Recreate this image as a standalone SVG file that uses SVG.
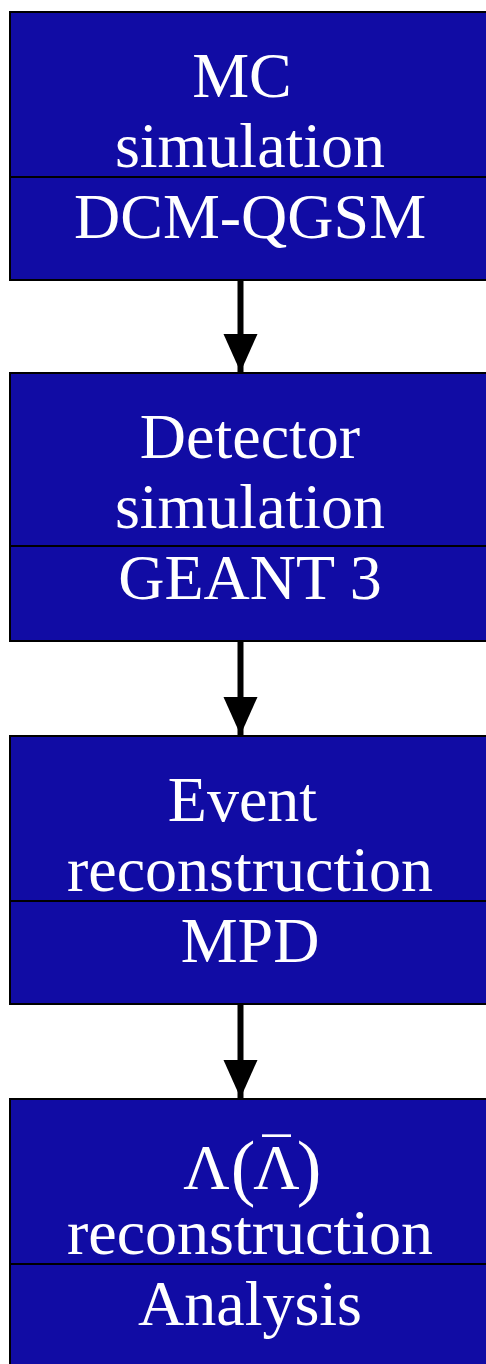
<svg xmlns="http://www.w3.org/2000/svg" width="486" height="1364" viewBox="0 0 486 1364">
  <defs>
    <style>
      .box { fill: #110ca4; stroke: #000; stroke-width: 2; }
      .sep { stroke: #000; stroke-width: 2; }
      .lbl { font-family: "Liberation Serif", "Times New Roman", serif; font-size: 64px; fill: #fff; text-anchor: middle; }
      .paren { font-size: 74px; }
      .bar { font-size: 56px; }
      .edge { stroke: #000; stroke-width: 6; fill: none; }
    </style>
    <marker id="head" markerUnits="userSpaceOnUse" markerWidth="38" markerHeight="36" refX="38" refY="17" orient="auto">
      <path d="M0,0 L38,17 L0,34 Z" fill="#000"/>
    </marker>
  </defs>
  <rect width="486" height="1364" fill="#fff"/>

  <g id="connectors">
    <line class="edge" x1="240.5" y1="281" x2="240.5" y2="372" marker-end="url(#head)"/>
    <line class="edge" x1="240.5" y1="642" x2="240.5" y2="735" marker-end="url(#head)"/>
    <line class="edge" x1="240.5" y1="1005" x2="240.5" y2="1098" marker-end="url(#head)"/>
  </g>

  <g id="mc-simulation">
    <rect class="box" x="10" y="12" width="480" height="268"/>
    <line class="sep" x1="10" y1="177" x2="490" y2="177"/>
    <text class="lbl" x="242" y="97">MC</text>
    <text class="lbl" x="250" y="167">simulation</text>
    <text class="lbl" x="250" y="238">DCM-QGSM</text>
  </g>

  <g id="detector-simulation">
    <rect class="box" x="10" y="373" width="480" height="268"/>
    <line class="sep" x1="10" y1="546" x2="490" y2="546"/>
    <text class="lbl" x="250" y="458">Detector</text>
    <text class="lbl" x="250" y="528">simulation</text>
    <text class="lbl" x="250" y="599">GEANT 3</text>
  </g>

  <g id="event-reconstruction">
    <rect class="box" x="10" y="736" width="480" height="268"/>
    <line class="sep" x1="10" y1="901" x2="490" y2="901"/>
    <text class="lbl" x="242.5" y="821">Event</text>
    <text class="lbl" x="250" y="891">reconstruction</text>
    <text class="lbl" x="250" y="962">MPD</text>
  </g>

  <g id="lambda-reconstruction">
    <rect class="box" x="10" y="1099" width="480" height="270"/>
    <line class="sep" x1="10" y1="1264" x2="490" y2="1264"/>
    <!-- Λ(Λ̄) set piece by piece, math-style spacing -->
    <text class="lbl"><tspan x="206.5" y="1189">Λ</tspan><tspan class="paren" x="243" y="1192">(</tspan><tspan x="276.5" y="1189">Λ</tspan><tspan class="paren" x="309" y="1192">)</tspan><tspan class="bar" x="276.5" y="1178">¯</tspan></text>
    <text class="lbl" x="250" y="1254">reconstruction</text>
    <text class="lbl" x="250" y="1325">Analysis</text>
  </g>
</svg>
